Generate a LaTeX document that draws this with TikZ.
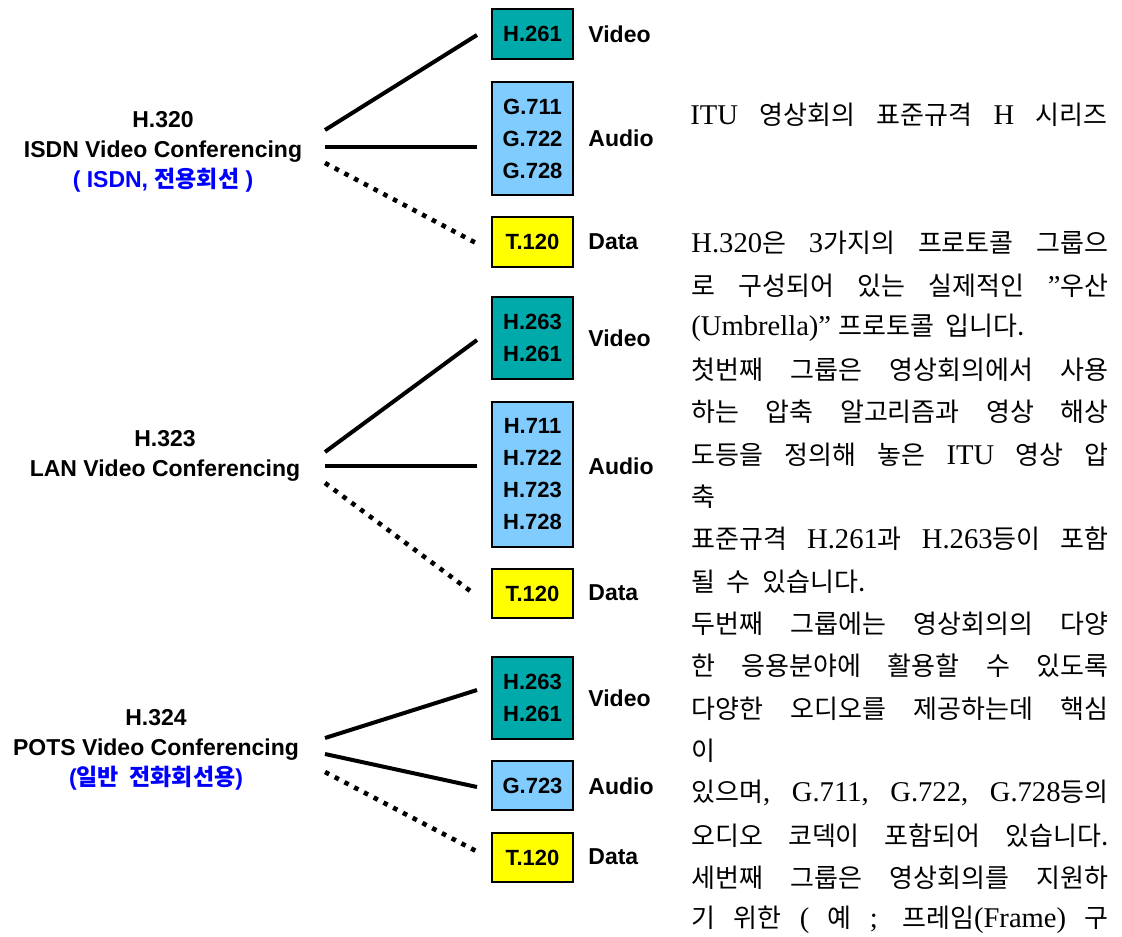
\documentclass[tikz,border=0pt]{standalone}
\usepackage{fontspec}
\setmainfont{Liberation Serif}[Scale=1.1]
\setsansfont{Liberation Sans}
\newfontfamily\krfont{Noto Sans CJK KR}[WordSpace=2]
\newcommand\ko[1]{{\krfont #1}}
\newcommand\fullline[1]{\makebox[208.5pt][s]{\spaceskip=3pt plus 1fil\relax #1}}

\definecolor{videoteal}{RGB}{0,170,170}
\definecolor{audioblue}{RGB}{128,204,255}
\definecolor{datayellow}{RGB}{255,255,0}
\definecolor{lineblue}{RGB}{0,0,255}

\begin{document}
\begin{tikzpicture}
    [
        x=0.5pt,
        y=-0.5pt,
        codec/.style={
                draw=black,
                line width=1pt,
                minimum width=40.5pt,
                inner sep=0pt,
                align=center,
                font=\sffamily\bfseries\fontsize{11}{16}\selectfont,
                fill=#1,
            },
        kind/.style={
                anchor=west,
                inner sep=0pt,
                font=\sffamily\bfseries\fontsize{11.5}{14}\selectfont,
            },
        group/.style={
                align=center,
                inner sep=0pt,
                font=\sffamily\bfseries\fontsize{11.5}{15}\selectfont,
            },
        solidlink/.style={line width=2pt},
        dottedlink/.style={line width=2.3pt, dash pattern=on 2.3pt off 3.2pt},
        textline/.style={
                anchor=west,
                inner sep=0pt,
                font=\rmfamily\fontsize{13}{16}\selectfont,
            },
    ]
    \useasboundingbox (0,0) rectangle (1122,936);

    % H.320
    \node [group] (h320) at (163,152) {H.320\\ISDN Video Conferencing\\\textcolor{lineblue}{( ISDN, \ko{전용회선} )}};
    \node [codec=videoteal, minimum height=25pt] (v320) at (532.5,34) {H.261};
    \node [codec=audioblue, minimum height=56.5pt] (a320) at (532.5,138.5) {G.711\\G.722\\G.728};
    \node [codec=datayellow, minimum height=25pt] (d320) at (532.5,242) {T.120};
    \node [kind] (kv320) at (588,34) {Video};
    \node [kind] (ka320) at (588,138) {Audio};
    \node [kind] (kd320) at (588,242) {Data};
    \coordinate (o320v) at (325,130);
    \coordinate (o320a) at (325,147);
    \coordinate (o320d) at (325,163);
    \coordinate (e320v) at (477,35);
    \coordinate (e320a) at (477,147);
    \coordinate (e320d) at (476,243);
    \draw [solidlink] (o320v) -- (e320v);
    \draw [solidlink] (o320a) -- (e320a);
    \draw [dottedlink] (o320d) -- (e320d);

    % H.323
    \node [group] (h323) at (165,455.5) {H.323\\LAN Video Conferencing};
    \node [codec=videoteal, minimum height=41pt] (v323) at (532.5,338) {H.263\\H.261};
    \node [codec=audioblue, minimum height=72.5pt] (a323) at (532.5,474.5) {H.711\\H.722\\H.723\\H.728};
    \node [codec=datayellow, minimum height=24.5pt] (d323) at (532.5,593.5) {T.120};
    \node [kind] (kv323) at (588,338) {Video};
    \node [kind] (ka323) at (588,466) {Audio};
    \node [kind] (kd323) at (588,593) {Data};
    \coordinate (o323v) at (325,452);
    \coordinate (o323a) at (325,466);
    \coordinate (o323d) at (325,483);
    \coordinate (e323v) at (477,340);
    \coordinate (e323a) at (477,466);
    \coordinate (e323d) at (473,593);
    \draw [solidlink] (o323v) -- (e323v);
    \draw [solidlink] (o323a) -- (e323a);
    \draw [dottedlink] (o323d) -- (e323d);

    % H.324
    \node [group] (h324) at (156,750) {H.324\\POTS Video Conferencing\\\textcolor{lineblue}{(\ko{일반 전화회선용})}};
    \node [codec=videoteal, minimum height=41pt] (v324) at (532.5,698) {H.263\\H.261};
    \node [codec=audioblue, minimum height=24.5pt] (a324) at (532.5,785.5) {G.723};
    \node [codec=datayellow, minimum height=24.5pt] (d324) at (532.5,857.5) {T.120};
    \node [kind] (kv324) at (588,698) {Video};
    \node [kind] (ka324) at (588,786) {Audio};
    \node [kind] (kd324) at (588,857) {Data};
    \coordinate (o324v) at (325,738);
    \coordinate (o324a) at (325,754);
    \coordinate (o324d) at (325,772);
    \coordinate (e324v) at (477,690);
    \coordinate (e324a) at (477,787);
    \coordinate (e324d) at (476,851);
    \draw [solidlink] (o324v) -- (e324v);
    \draw [solidlink] (o324a) -- (e324a);
    \draw [dottedlink] (o324d) -- (e324d);

    % description text
    \node [textline] (title) at (690,115) {\fullline{ITU \ko{영상회의 표준규격} H \ko{시리즈}}};
    \node [textline] (l1) at (691,243) {\fullline{H.320\ko{은} 3\ko{가지의 프로토콜 그룹으}}};
    \node [textline] (l2) at (691,285.3) {\fullline{\ko{로 구성되어 있는 실제적인} "\ko{우산}}};
    \node [textline] (l3) at (691,327.6) {(Umbrella)" \ko{프로토콜 입니다.}};
    \node [textline] (l4) at (691,369.9) {\fullline{\ko{첫번째 그룹은 영상회의에서 사용}}};
    \node [textline] (l5) at (691,412.2) {\fullline{\ko{하는 압축 알고리즘과 영상 해상}}};
    \node [textline] (l6) at (691,454.5) {\fullline{\ko{도등을 정의해 놓은} ITU \ko{영상 압}}};
    \node [textline] (l7) at (691,496.8) {\ko{축}};
    \node [textline] (l8) at (691,539.1) {\fullline{\ko{표준규격} H.261\ko{과} H.263\ko{등이 포함}}};
    \node [textline] (l9) at (691,581.4) {\ko{될 수 있습니다.}};
    \node [textline] (l10) at (691,623.7) {\fullline{\ko{두번째 그룹에는 영상회의의 다양}}};
    \node [textline] (l11) at (691,666) {\fullline{\ko{한 응용분야에 활용할 수 있도록}}};
    \node [textline] (l12) at (691,708.3) {\fullline{\ko{다양한 오디오를 제공하는데 핵심}}};
    \node [textline] (l13) at (691,750.6) {\ko{이}};
    \node [textline] (l14) at (691,792.9) {\fullline{\ko{있으며}, G.711, G.722, G.728\ko{등의}}};
    \node [textline] (l15) at (691,835.2) {\fullline{\ko{오디오 코덱이 포함되어 있습니다.}}};
    \node [textline] (l16) at (691,877.5) {\fullline{\ko{세번째 그룹은 영상회의를 지원하}}};
    \node [textline] (l17) at (691,919.8) {\fullline{\ko{기 위한} ( \ko{예} ; \ko{프레임}(Frame) \ko{구}}};
\end{tikzpicture}
\end{document}
